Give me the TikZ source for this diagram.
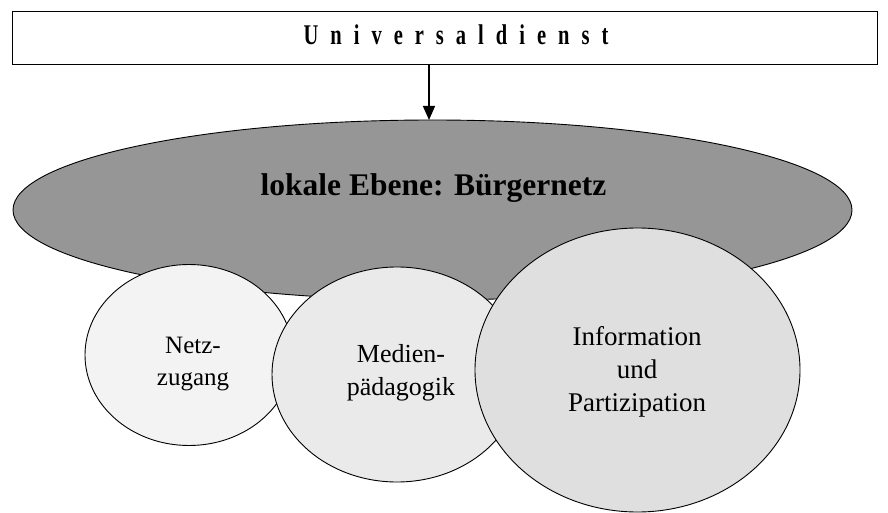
\documentclass[tikz,border=0pt]{standalone}
\usepackage{fontspec}
\setmainfont{Liberation Serif}
\newfontfamily\titlefont[FakeStretch=0.72]{Liberation Serif}
\usetikzlibrary{shapes.geometric,arrows.meta}
\definecolor{bigfill}{RGB}{150,150,150}
\definecolor{netzfill}{RGB}{243,243,243}
\definecolor{medienfill}{RGB}{234,234,234}
\definecolor{infofill}{RGB}{223,223,223}
\newcommand\gp{\hspace{12pt}}
\begin{document}
\begin{tikzpicture}[x=1pt,y=-1pt,
  oval/.style={ellipse, draw=black, line width=0.9pt, inner sep=0pt, outer sep=0pt},
  label/.style={anchor=base, inner sep=0pt, align=center},
  conn/.style={line width=1.3pt, -{Triangle[length=14pt,width=12pt]}}]
\useasboundingbox (0,0) rectangle (888,513);
\node[draw, line width=1pt, minimum width=865pt, minimum height=53pt, inner sep=0pt, outer sep=0pt] (box) at (444.5,38.5) {};
\node[label] (title) at (456,45) {\titlefont\bfseries\fontsize{28.5}{30}\selectfont U\gp n\gp i\gp v\gp e\gp r\gp s\gp a\gp l\gp d\gp i\gp e\gp n\gp s\gp t};
\node[oval, fill=bigfill, minimum width=839pt, minimum height=180pt] (big) at (432.5,210) {};
\node[label] (bigtext) at (433.5,195) {\bfseries\fontsize{31.5}{34}\selectfont lokale Ebene: Bürgernetz};
\node[oval, fill=netzfill, minimum width=208pt, minimum height=181pt] (netz) at (189,355) {};
\node[oval, fill=medienfill, minimum width=250pt, minimum height=215pt] (medien) at (397,374.5) {};
\node[oval, fill=infofill, minimum width=325pt, minimum height=284pt] (info) at (637.5,370) {};
\node[label, font=\fontsize{25}{32}\selectfont] (netztext) at (193,385) {Netz-\\zugang};
\node[label, font=\fontsize{26}{33}\selectfont] (medientext) at (401,395) {Medien-\\pädagogik};
\node[label, font=\fontsize{27}{33}\selectfont] (infotext) at (637,411) {Information\\und\\Partizipation};
\coordinate (arrx) at (429,0);
\draw[conn] (box.south -| arrx) -- (big.north -| arrx);
\end{tikzpicture}
\end{document}
